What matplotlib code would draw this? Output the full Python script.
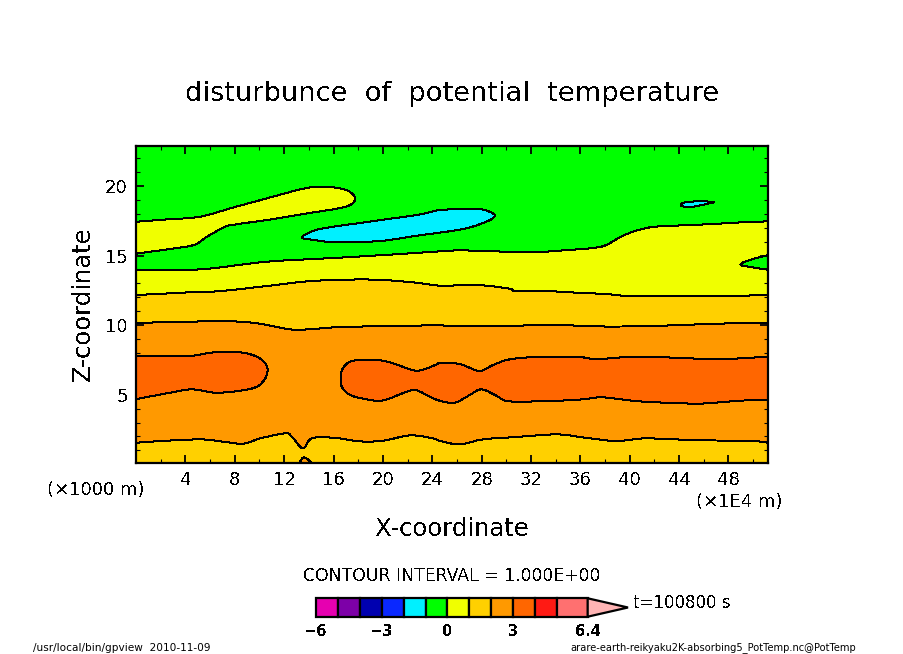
import numpy as np
import matplotlib
matplotlib.use("Agg")
import matplotlib.pyplot as plt

W, H = 904, 654
plt.rcParams['font.family'] = ['DejaVu Sans']
plt.rcParams['text.antialiased'] = False

TITLE = "disturbunce  of  potential  temperature"
XLABEL = "X-coordinate"
YLABEL = "Z-coordinate"
INTERVAL = "CONTOUR INTERVAL = 1.000E+00"
TIME = "t=100800 s"
NOTE_L = "/usr/local/bin/gpview  2010-11-09"
NOTE_R = "arare-earth-reikyaku2K-absorbing5_PotTemp.nc@PotTemp"
XUNIT = "(\u00d71E4 m)"
ZUNIT = "(\u00d71000 m)"

XLIM = (0.0, 51.2)
ZLIM = (0.11, 22.9)
XTICKS = [4, 8, 12, 16, 20, 24, 28, 32, 36, 40, 44, 48]
ZTICKS = [5, 10, 15, 20]

LEVELS = [-6, -5, -4, -3, -2, -1, 0, 1, 2, 3, 4, 5, 6.4]
LEVEL_COLORS = ['#e600b0', '#7d00a8', '#0000b0', '#0a28ff', '#00f0ff', '#00ff00',
                '#f0ff00', '#ffd000', '#ff9900', '#ff6600', '#ff1a14', '#ff7070']
OVER_COLOR = '#ffb4b4'
CBAR_TICKS = [-6, -3, 0, 3, 6.4]
CBAR_LABELS = ['\u22126', '\u22123', '0', '3', '6.4']
CBAR_TIP = 8.24

GREEN, CYAN, YELLOW, GOLD, ORANGE, DARK = '#00ff00', '#00f0ff', '#f0ff00', '#ffd000', '#ff9900', '#ff6600'


def x1(a):
    return (np.asarray(a, float) - 106.8) / 37.08


def x2(a):
    return 28 + (np.asarray(a, float) - 126) / 37.05


def z(a):
    return (1002.6 - np.asarray(a, float)) / 41.73


# contour heights (reading columns of the two crops)
c1_x = np.r_[x1([108, 180, 300, 370, 430, 480, 555, 575, 608, 635, 700, 780, 850, 930, 1000]),
             x2([0, 60, 130, 230, 350, 430, 530, 620, 780, 930, 984])]
c1_z = z([938, 933, 928, 935, 941, 925, 910, 920, 955, 925, 923, 934, 932, 916, 925,
          932, 943, 928, 921, 913, 922, 933, 925, 931, 932, 938])
c1b_x = x1([595, 612, 640])
c1b_z = z([1003, 982, 1003])

c2_x = np.r_[x1([108, 200, 300, 400, 480, 570, 640, 700, 850]),
             x2([0, 30, 130, 200, 300, 380, 450, 600, 720, 870, 984])]
c2_z = z([578, 577, 574, 574, 581, 598, 597, 592, 588,
          586, 589, 588, 589, 584, 585, 589, 589, 585, 580, 579])

c3_x = np.r_[x1([108, 240, 350, 500, 620, 730, 830, 930]),
             x2([0, 50, 130, 210, 230, 320, 420, 490, 550, 620, 850, 984])]
c3_z = z([495, 488, 484, 468, 454, 449, 449, 456,
          467, 466, 466, 476, 484, 483, 489, 491, 497, 499, 499, 494])

c4_x = np.r_[x1([108, 300, 500, 700, 900]),
             x2([0, 60, 170, 270, 360, 460, 500, 540, 580, 620, 660, 780, 900, 984])]
c4_z = z([421, 418, 395, 384, 372,
          364, 361, 364, 367, 362, 354, 345, 322, 305, 294, 289, 284, 277, 274])

tongue_x = x1([108, 200, 280, 320, 370, 400, 500, 620, 700, 750, 765, 755, 735, 700, 650, 600, 500, 400, 300, 200, 108])
tongue_z = z([371, 358, 345, 320, 292, 284, 270, 250, 238, 225, 207, 190, 179, 172, 170, 178, 205, 232, 260, 268, 275])

blue_x = np.r_[x1([605, 640, 700, 800, 950]), x2([0, 70, 125, 160, 165, 140, 80, 0]),
               x1([950, 850, 750, 690, 630])]
blue_z = z([322, 302, 290, 276, 255, 240, 238, 238, 250, 260, 275, 295, 308, 317, 332, 337, 336, 328])

speck_x = x2([725, 735, 780, 822, 800, 760])
speck_z = z([228, 217, 214, 216, 222, 230])

lens_x = x2([984, 930, 903, 940, 984])
lens_z = z([376, 390, 404, 412, 419])

blobL_x = x1([108, 180, 270, 340, 420, 470, 495, 502, 495, 470, 420, 345, 275, 210, 108])
blobL_z = z([679, 679, 678, 667, 667, 680, 700, 720, 745, 770, 782, 788, 778, 788, 807])

blobR_top_x = np.r_[x1([722, 730, 760, 830, 880, 950, 1010]),
                    x2([0, 55, 90, 122, 160, 210, 290, 410, 470, 530, 620, 780, 880, 984, 1040])]
blobR_top_z = z([740, 712, 692, 690, 700, 722, 703,
                 700, 701, 713, 723, 705, 688, 681, 680, 688, 683, 680, 686, 686, 680, 678])
blobR_bot_x = np.r_[x2([1040, 984, 900, 800, 730, 600, 490, 430, 330, 210, 170, 126, 90, 55, 30, 0]),
                    x1([1000, 950, 920, 850, 800, 750, 725])]
blobR_bot_z = z([808, 810, 812, 820, 820, 814, 802, 808, 813, 814, 797, 778, 795, 815, 818, 812,
                 805, 781, 785, 811, 808, 795, 770])


def smooth(x, y, closed=False, n=8):
    """Catmull-Rom curve through the read points."""
    p = np.column_stack([x, y])
    if closed:
        p = np.vstack([p[-1], p, p[0], p[1]])
    else:
        p = np.vstack([2 * p[0] - p[1], p, 2 * p[-1] - p[-2]])
    t = np.linspace(0, 1, n, endpoint=False)[:, None]
    out = []
    for i in range(1, len(p) - 2):
        a, b, c, d = p[i - 1], p[i], p[i + 1], p[i + 2]
        out.append(0.5 * (2 * b + (c - a) * t + (2 * a - 5 * b + 4 * c - d) * t ** 2
                          + (3 * b - a - 3 * c + d) * t ** 3))
    out.append(p[-2][None, :])
    r = np.vstack(out)
    return r[:, 0], r[:, 1]


fig = plt.figure(figsize=(W / 100, H / 100), dpi=100)
ax = fig.add_axes([136 / W, 1 - 462.7 / H, 632 / W, 317 / H])
ax.set_xlim(*XLIM)
ax.set_ylim(*ZLIM)
ax.set_facecolor(GREEN)


def band_below(x, y, color, zorder):
    sx, sy = smooth(x, y)
    ax.fill(np.r_[sx, sx[-1], sx[0]], np.r_[sy, ZLIM[0], ZLIM[0]], color=color, lw=0,
            antialiased=False, zorder=zorder)


def line(x, y, closed=False, zorder=5):
    sx, sy = smooth(x, y, closed)
    if closed:
        sx, sy = np.r_[sx, sx[0]], np.r_[sy, sy[0]]
    ax.plot(sx, sy, color='k', lw=0.72, antialiased=False, zorder=zorder)


def patch(x, y, color, zorder, closed=True):
    sx, sy = smooth(x, y, closed)
    ax.fill(sx, sy, color=color, lw=0, antialiased=False, zorder=zorder)


# stacked bands, top down
band_below(c4_x, c4_z, YELLOW, 1)
band_below(c3_x, c3_z, GOLD, 1.1)
band_below(c2_x, c2_z, ORANGE, 1.2)
band_below(c1_x, c1_z, GOLD, 1.3)
patch(c1b_x, c1b_z, ORANGE, 1.4, closed=False)

# upper tongue, cyan lenses, green lens
patch(tongue_x, tongue_z, YELLOW, 2, closed=False)
patch(blue_x, blue_z, CYAN, 2, closed=True)
patch(speck_x, speck_z, CYAN, 2, closed=True)
patch(lens_x, lens_z, GREEN, 2, closed=False)

# dark orange regions
patch(blobL_x, blobL_z, DARK, 2, closed=False)
patch(np.r_[blobR_top_x, blobR_bot_x], np.r_[blobR_top_z, blobR_bot_z], DARK, 2, closed=True)

for cx, cz in [(c1_x, c1_z), (c1b_x, c1b_z), (c2_x, c2_z), (c3_x, c3_z), (c4_x, c4_z),
               (tongue_x, tongue_z), (lens_x, lens_z), (blobL_x, blobL_z)]:
    line(cx, cz)
line(blue_x, blue_z, closed=True)
line(speck_x, speck_z, closed=True)
line(np.r_[blobR_top_x, blobR_bot_x], np.r_[blobR_top_z, blobR_bot_z], closed=True)

ax.set_xticks(XTICKS)
ax.set_yticks(ZTICKS)
ax.set_xticks(np.arange(2, 51, 2), minor=True)
ax.set_yticks(np.arange(1, 23, 1), minor=True)
ax.tick_params(which='major', direction='in', length=6, width=1.3, top=True, right=True,
               labelsize=13, pad=6)
ax.tick_params(which='minor', direction='in', length=3, width=0.8, top=True, right=True)
for s in ax.spines.values():
    s.set_linewidth(1.6)
    s.set_zorder(10)


def label(px, py, s, size, ha='center', rot=0, aa=False):
    fig.text(px / W, 1 - py / H, s, fontsize=size, ha=ha, va='center', rotation=rot, antialiased=aa)


label(452.5, 94, TITLE, 19.6)
label(452, 529, XLABEL, 17.5)
label(83, 304, YLABEL, 17.5, rot=90)
label(95.5, 490, ZUNIT, 13)
label(739, 502, XUNIT, 13)
label(452, 576, INTERVAL, 12.4)
label(633, 603, TIME, 12, ha='left')
label(33, 648, NOTE_L, 7.6, ha='left', aa=True)
label(570, 648, NOTE_R, 7.1, ha='left', aa=True)

# colour bar
cax = fig.add_axes([316 / W, 1 - 616.7 / H, 312 / W, 18.4 / H])
cax.set_xlim(LEVELS[0], CBAR_TIP)
cax.set_ylim(0, 1)
cax.axis('off')
cax.bar(LEVELS[:-1], 1, width=np.diff(LEVELS), align='edge', color=LEVEL_COLORS,
        edgecolor='k', linewidth=1.6, clip_on=False)
cax.fill([LEVELS[-1], CBAR_TIP, LEVELS[-1]], [0, 0.5, 1], facecolor=OVER_COLOR,
         edgecolor='k', linewidth=1.6, clip_on=False)
for v, s in zip(CBAR_TICKS, CBAR_LABELS):
    cax.annotate(s, (v, 0), xytext=(0, -10.5), textcoords='offset points', ha='center',
                 va='center', fontsize=10.5, fontweight='bold')

fig.savefig('out.png', dpi=100)
